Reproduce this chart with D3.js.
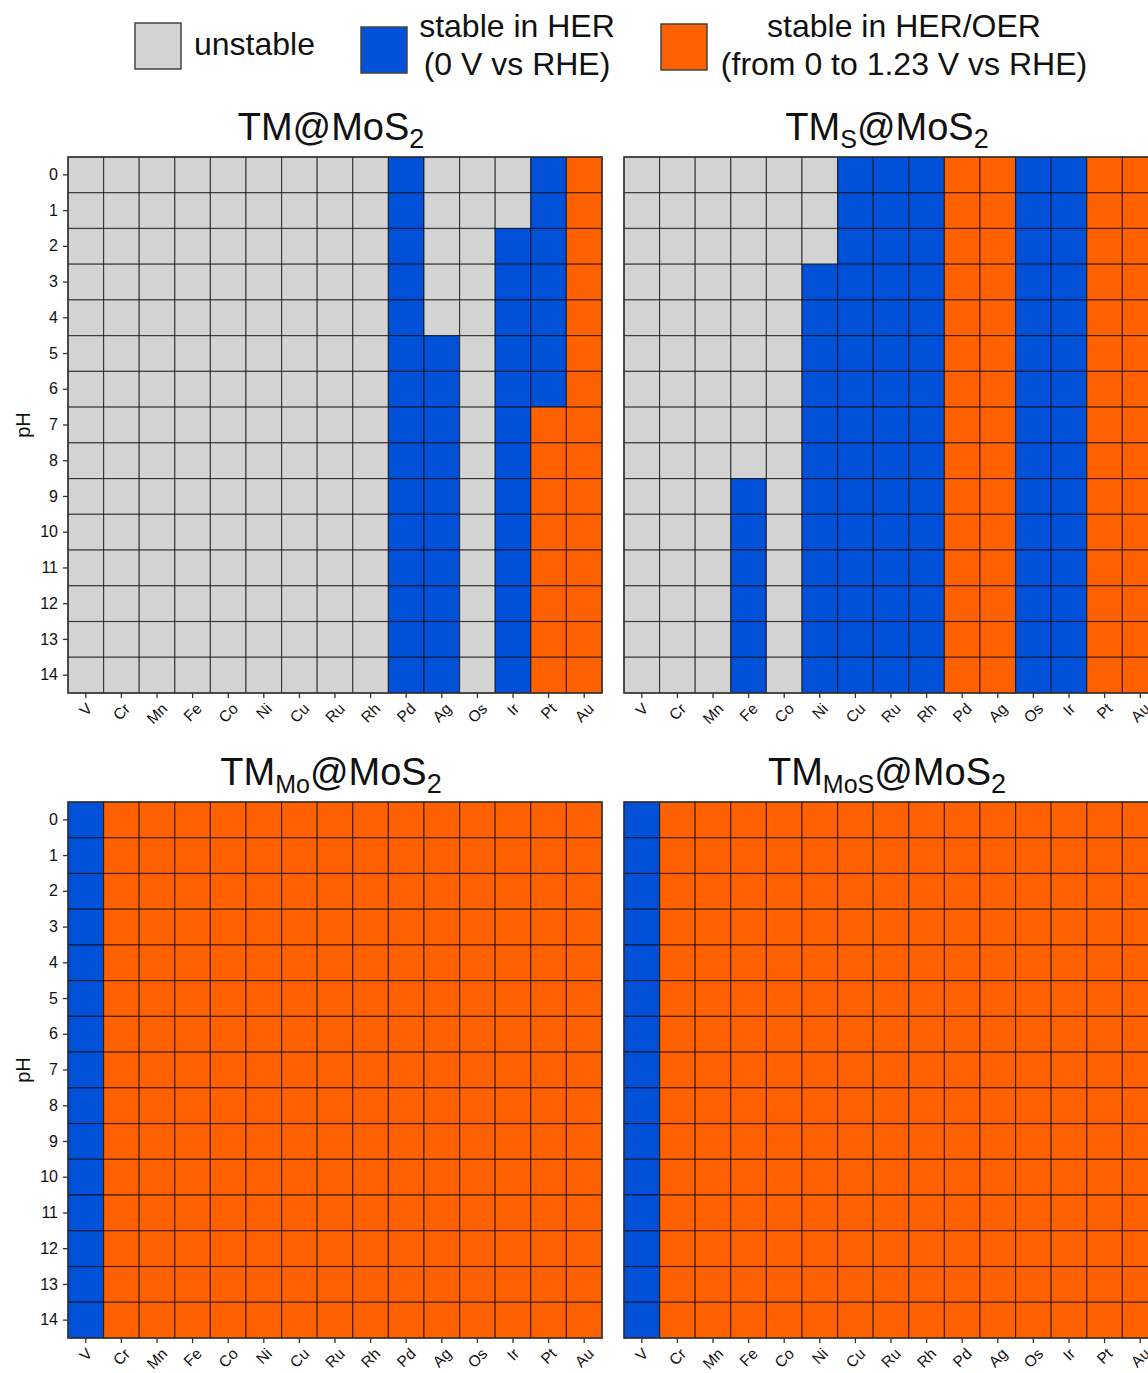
<!DOCTYPE html>
<html>
<head>
  <meta charset="utf-8">
  <title>TM@MoS2 stability</title>
  <script src="https://d3js.org/d3.v7.min.js"></script>
  <style>
    body { margin: 0; background: #fff; }
    svg { display: block; overflow: hidden; }
    text { font-family: "Liberation Sans", Arial, sans-serif; fill: #111; }
  </style>
</head>
<body>
<script>
  // x categories and y ticks
  const elements = ['V', 'Cr', 'Mn', 'Fe', 'Co', 'Ni', 'Cu', 'Ru', 'Rh', 'Pd', 'Ag', 'Os', 'Ir', 'Pt', 'Au'];
  const pHTicks = [0, 1, 2, 3, 4, 5, 6, 7, 8, 9, 10, 11, 12, 13, 14];

  // state per element, one char per pH 0..14 : u = unstable, h = stable in HER, o = stable in HER/OER
  const stateTM = [
    'uuuuuuuuuuuuuuu', 'uuuuuuuuuuuuuuu', 'uuuuuuuuuuuuuuu', 'uuuuuuuuuuuuuuu', 'uuuuuuuuuuuuuuu',
    'uuuuuuuuuuuuuuu', 'uuuuuuuuuuuuuuu', 'uuuuuuuuuuuuuuu', 'uuuuuuuuuuuuuuu', 'hhhhhhhhhhhhhhh',
    'uuuuuhhhhhhhhhh', 'uuuuuuuuuuuuuuu', 'uuhhhhhhhhhhhhh', 'hhhhhhhoooooooo', 'ooooooooooooooo'
  ];
  const stateTMS = [
    'uuuuuuuuuuuuuuu', 'uuuuuuuuuuuuuuu', 'uuuuuuuuuuuuuuu', 'uuuuuuuuuhhhhhh', 'uuuuuuuuuuuuuuu',
    'uuuhhhhhhhhhhhh', 'hhhhhhhhhhhhhhh', 'hhhhhhhhhhhhhhh', 'hhhhhhhhhhhhhhh', 'ooooooooooooooo',
    'ooooooooooooooo', 'hhhhhhhhhhhhhhh', 'hhhhhhhhhhhhhhh', 'ooooooooooooooo', 'ooooooooooooooo'
  ];
  const stateTMMo = [
    'hhhhhhhhhhhhhhh', 'ooooooooooooooo', 'ooooooooooooooo', 'ooooooooooooooo', 'ooooooooooooooo',
    'ooooooooooooooo', 'ooooooooooooooo', 'ooooooooooooooo', 'ooooooooooooooo', 'ooooooooooooooo',
    'ooooooooooooooo', 'ooooooooooooooo', 'ooooooooooooooo', 'ooooooooooooooo', 'ooooooooooooooo'
  ];
  const stateTMMoS = [
    'hhhhhhhhhhhhhhh', 'ooooooooooooooo', 'ooooooooooooooo', 'ooooooooooooooo', 'ooooooooooooooo',
    'ooooooooooooooo', 'ooooooooooooooo', 'ooooooooooooooo', 'ooooooooooooooo', 'ooooooooooooooo',
    'ooooooooooooooo', 'ooooooooooooooo', 'ooooooooooooooo', 'ooooooooooooooo', 'ooooooooooooooo'
  ];

  const stateKeys = ['u', 'h', 'o'];
  const stateColors = ['#d3d3d3', '#0050d8', '#ff6100'];
  const color = d3.scaleOrdinal().domain(stateKeys).range(stateColors);

  const W = 1148, H = 1373;
  const pw = 534, ph = 536;

  const svg = d3.select('body').append('svg')
    .attr('width', W)
    .attr('height', H);

  // legend
  const legend = [
    { key: 'u', x: 135, y: 23, lines: ['unstable'], tx: 194, ty: [55], anchor: 'start' },
    { key: 'h', x: 361, y: 27, lines: ['stable in HER', '(0 V vs RHE)'], tx: 517, ty: [37, 75], anchor: 'middle' },
    { key: 'o', x: 661, y: 24, lines: ['stable in HER/OER', '(from 0 to 1.23 V vs RHE)'], tx: 904, ty: [37, 75], anchor: 'middle' }
  ];
  legend.forEach(l => {
    svg.append('rect')
      .attr('x', l.x).attr('y', l.y)
      .attr('width', 46).attr('height', 46)
      .attr('fill', color(l.key))
      .attr('stroke', '#444').attr('stroke-width', 1.5);
    l.lines.forEach((t, i) => {
      svg.append('text')
        .attr('x', l.tx).attr('y', l.ty[i])
        .attr('text-anchor', l.anchor)
        .style('font-size', '32px')
        .text(t);
    });
  });

  const panels = [
    { data: stateTM, sub: null, x0: 68, y0: 157, yLabels: true },
    { data: stateTMS, sub: 'S', x0: 624, y0: 157, yLabels: false },
    { data: stateTMMo, sub: 'Mo', x0: 68, y0: 802, yLabels: true },
    { data: stateTMMoS, sub: 'MoS', x0: 624, y0: 802, yLabels: false }
  ];

  panels.forEach(p => {
    const x = d3.scaleBand().domain(elements).range([p.x0, p.x0 + pw]);
    const y = d3.scaleBand().domain(pHTicks).range([p.y0, p.y0 + ph]);

    const cells = [];
    elements.forEach((el, i) => {
      pHTicks.forEach((v, j) => cells.push({ el: el, pH: v, s: p.data[i][j] }));
    });

    const g = svg.append('g');
    g.selectAll('rect.cell')
      .data(cells)
      .enter()
      .append('rect')
      .attr('class', 'cell')
      .attr('x', d => x(d.el))
      .attr('y', d => y(d.pH))
      .attr('width', x.bandwidth())
      .attr('height', y.bandwidth())
      .attr('fill', d => color(d.s))
      .attr('stroke', 'rgba(0,0,0,0.6)')
      .attr('stroke-width', 1.2);

    g.append('rect')
      .attr('x', p.x0).attr('y', p.y0)
      .attr('width', pw).attr('height', ph)
      .attr('fill', 'none')
      .attr('stroke', '#333').attr('stroke-width', 1.5);

    // y axis (only on the left column)
    if (p.yLabels) {
      const ya = g.append('g')
        .attr('transform', `translate(${p.x0},0)`)
        .call(d3.axisLeft(y).tickSize(5).tickPadding(5));
      ya.select('.domain').remove();
      ya.selectAll('line').attr('stroke', '#333').attr('stroke-width', 1.3);
      ya.selectAll('text').style('font-size', '16px').attr('fill', '#111')
        .style('font-family', '"Liberation Sans", Arial, sans-serif');

      g.append('text')
        .attr('transform', `translate(30,${p.y0 + ph / 2}) rotate(-90)`)
        .attr('text-anchor', 'middle')
        .style('font-size', '20px')
        .text('pH');
    }

    // x axis
    const xa = g.append('g')
      .attr('transform', `translate(0,${p.y0 + ph})`)
      .call(d3.axisBottom(x).tickSize(5));
    xa.select('.domain').remove();
    xa.selectAll('line').attr('stroke', '#333').attr('stroke-width', 1.3);
    xa.selectAll('text')
      .style('font-size', '15.5px')
      .style('font-family', '"Liberation Sans", Arial, sans-serif')
      .attr('fill', '#111')
      .attr('y', 0)
      .attr('dy', '0.35em')
      .attr('text-anchor', 'middle')
      .attr('transform', function() {
        const w = this.getComputedTextLength();
        return `translate(0,${9 + (w + 11) * 0.354}) rotate(-45)`;
      });

    // title
    const t = g.append('text')
      .attr('x', p.x0 + pw / 2 - 4)
      .attr('y', p.y0 - 17)
      .attr('text-anchor', 'middle')
      .style('font-size', '38px');
    t.append('tspan').text('TM');
    if (p.sub) {
      t.append('tspan').attr('dy', 8).style('font-size', '25px').text(p.sub);
      t.append('tspan').attr('dy', -8).text('@MoS');
    } else {
      t.append('tspan').text('@MoS');
    }
    t.append('tspan').attr('dy', 8).style('font-size', '27px').text('2');
  });
</script>
</body>
</html>
